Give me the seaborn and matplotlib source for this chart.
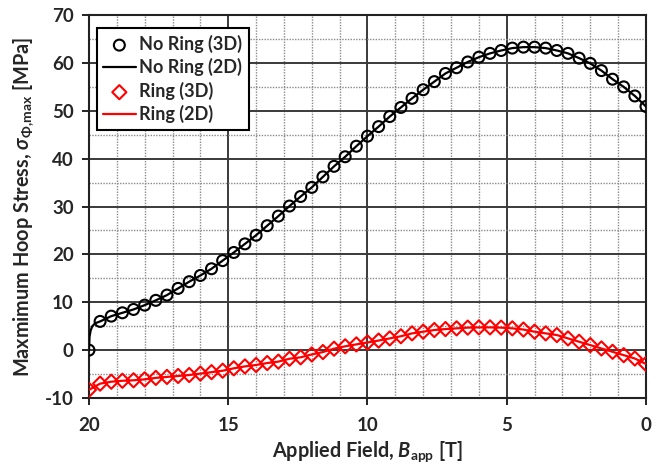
import matplotlib
matplotlib.use("Agg")
import matplotlib.pyplot as plt
import pandas as pd
import seaborn as sns
from matplotlib.ticker import MultipleLocator

# Applied field steps [T] (sweep from 20 T down to 0 T)
field = [20.0, 19.6, 19.2, 18.8, 18.4, 18.0, 17.6, 17.2, 16.8, 16.4,
         16.0, 15.6, 15.2, 14.8, 14.4, 14.0, 13.6, 13.2, 12.8, 12.4,
         12.0, 11.6, 11.2, 10.8, 10.4, 10.0, 9.6, 9.2, 8.8, 8.4,
         8.0, 7.6, 7.2, 6.8, 6.4, 6.0, 5.6, 5.2, 4.8, 4.4,
         4.0, 3.6, 3.2, 2.8, 2.4, 2.0, 1.6, 1.2, 0.8, 0.4, 0.0]

# Maximum hoop stress [MPa]
no_ring_3d = [0.0, 6.0, 7.1, 7.8, 8.5, 9.4, 10.4, 11.5, 12.9, 14.3,
              15.6, 17.0, 18.7, 20.4, 22.2, 24.0, 26.0, 28.0, 30.1, 32.1,
              34.0, 36.2, 38.4, 40.4, 42.6, 44.7, 46.7, 48.8, 50.7, 52.6,
              54.4, 56.1, 57.8, 59.0, 60.2, 61.2, 62.0, 62.6, 63.1, 63.3,
              63.3, 63.1, 62.6, 62.0, 61.0, 59.9, 58.4, 56.6, 55.0, 53.1, 50.9]

ring_3d = [-8.3, -7.0, -6.6, -6.4, -6.3, -6.1, -5.8, -5.6, -5.4, -5.2,
           -4.9, -4.6, -4.3, -3.8, -3.4, -3.1, -2.7, -2.4, -1.8, -1.5,
           -0.9, -0.4, 0.3, 0.8, 1.2, 1.6, 2.0, 2.45, 2.9, 3.5,
           3.85, 4.2, 4.4, 4.55, 4.7, 4.75, 4.75, 4.7, 4.55, 4.3,
           3.85, 3.5, 3.15, 2.45, 1.75, 1.05, 0.35, -0.35, -1.05, -1.75, -2.9]

# The 2D model is resolved more finely right after the start of the sweep
no_ring_2d_head_field = [20.0, 19.98, 19.94, 19.88, 19.78]
no_ring_2d_head = [0.0, 2.8, 4.1, 5.0, 5.6]

no_ring_2d_field = no_ring_2d_head_field + field[1:]
no_ring_2d = no_ring_2d_head + no_ring_3d[1:]
ring_2d = ring_3d

sns.set_theme(style="white")
plt.rcParams["font.family"] = ["Lato", "DejaVu Sans"]
plt.rcParams["font.weight"] = "bold"
plt.rcParams["axes.unicode_minus"] = False
plt.rcParams["mathtext.fontset"] = "custom"
plt.rcParams["mathtext.rm"] = "Lato:bold"
plt.rcParams["mathtext.bf"] = "Lato:bold"
plt.rcParams["mathtext.it"] = "Lato:bold:italic"
plt.rcParams["mathtext.fallback"] = "stix"

df3 = pd.DataFrame({"B": field, "no_ring": no_ring_3d, "ring": ring_3d})
df2_nr = pd.DataFrame({"B": no_ring_2d_field, "s": no_ring_2d})
df2_r = pd.DataFrame({"B": field, "s": ring_2d})

fig = plt.figure(figsize=(6.62, 4.71), dpi=100)
ax = fig.add_axes([0.1344, 0.155, 0.8414, 0.813])

sns.scatterplot(data=df3, x="B", y="no_ring", ax=ax, marker="o", s=62,
                facecolors="none", edgecolor="black", linewidth=1.5,
                label="No Ring (3D)", zorder=4)
sns.lineplot(data=df2_nr, x="B", y="s", ax=ax, color="black", linewidth=1.6,
             label="No Ring (2D)", zorder=3, sort=False)
sns.scatterplot(data=df3, x="B", y="ring", ax=ax, marker="D", s=52,
                facecolors="none", edgecolor="#ff0000", linewidth=1.5,
                label="Ring (3D)", zorder=4)
sns.lineplot(data=df2_r, x="B", y="s", ax=ax, color="#ff0000", linewidth=1.6,
             label="Ring (2D)", zorder=3, sort=False)

ax.set_xlim(20, 0)
ax.set_ylim(-10, 70)
ax.xaxis.set_major_locator(MultipleLocator(5))
ax.xaxis.set_minor_locator(MultipleLocator(1))
ax.yaxis.set_major_locator(MultipleLocator(10))
ax.yaxis.set_minor_locator(MultipleLocator(5))

ax.grid(which="major", color="#3a3a3a", linewidth=1.4, linestyle="-")
ax.grid(which="minor", color="#8a8a8a", linewidth=1.0, linestyle=(0, (1, 1)))
ax.set_axisbelow(True)

for sp in ax.spines.values():
    sp.set_color("#222222")
    sp.set_linewidth(1.5)

ax.tick_params(axis="both", which="major", direction="out", length=5, width=1.4,
               color="#222222", labelsize=13.5, bottom=True, left=True)
ax.tick_params(axis="x", which="major", pad=9)
ax.tick_params(axis="y", which="major", pad=6)
ax.tick_params(axis="both", which="minor", length=0)
for lab in ax.get_xticklabels() + ax.get_yticklabels():
    lab.set_fontweight("bold")

ax.set_xlabel(r"Applied Field, $\mathit{B}_{\mathrm{app}}$ [T]", fontsize=14.3,
              fontweight="bold", labelpad=4)
ax.set_ylabel(r"Maxmimum Hoop Stress, $\mathit{\sigma}_{\Phi,\!\mathrm{max}}$ [MPa]",
              fontsize=14.3, fontweight="bold", labelpad=6)

leg = ax.legend(loc="upper left", bbox_to_anchor=(0.014, 0.965), borderaxespad=0,
                fancybox=False, framealpha=1, edgecolor="black", fontsize=13,
                handlelength=1.8, handletextpad=0.2, labelspacing=0.3,
                borderpad=0.35, scatterpoints=1)
leg.get_frame().set_linewidth(1.5)
for t in leg.get_texts():
    t.set_fontweight("bold")

fig.savefig("out.png", dpi=100)
